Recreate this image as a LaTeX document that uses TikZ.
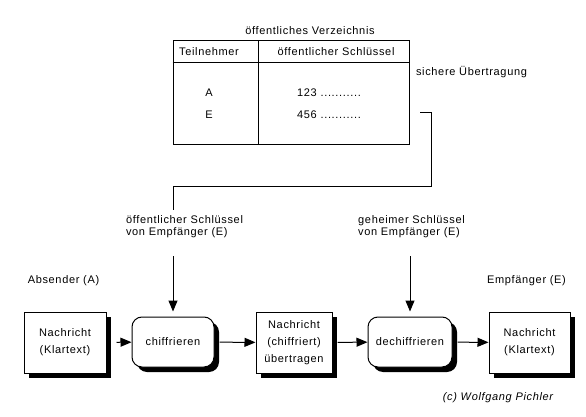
\documentclass[tikz,border=0pt]{standalone}
\usepackage{fontspec}
\setmainfont{Liberation Sans}[LetterSpace=6]
\definecolor{vzink}{HTML}{000000}
\usetikzlibrary{positioning, arrows.meta, calc, shadows}

\tikzset{
  msgbox/.style={draw=vzink, fill=white, line width=1pt, minimum width=82pt,
    minimum height=61pt, align=center, font=\fontsize{11}{17}\selectfont,
    drop shadow={shadow xshift=5pt, shadow yshift=-5pt, fill=vzink, opacity=1}},
  procbox/.style={msgbox, rounded corners=10pt, minimum height=50pt},
  flow/.style={-{Triangle[length=11pt, width=9pt]}, line width=1pt, vzink},
  link/.style={line width=1pt, vzink},
  lbl/.style={text=vzink, font=\fontsize{11}{12}\selectfont, inner sep=0pt},
}

\begin{document}
\begin{tikzpicture}[x=1pt, y=-1pt]
    \useasboundingbox (0,0) rectangle (586,417);
    % oeffentliches Verzeichnis
    \node[lbl] (titel) at (310,31) {öffentliches Verzeichnis};
    \node[draw=vzink, line width=1pt, minimum width=236pt, minimum height=103pt] (verz) at (291,92.5) {};
    \draw[link] ($(verz.north west)+(0,22)$) -- ($(verz.north east)+(0,22)$);
    \draw[link] ($(verz.north west)+(86,0)$) -- ($(verz.south west)+(86,0)$);
    \node[lbl] (teiln) at (209,52) {Teilnehmer};
    \node[lbl] (schl) at (336,52) {öffentlicher Schlüssel};
    \node[lbl] (ta) at (209,93) {A};
    \node[lbl] (te) at (209,115) {E};
    \node[lbl, anchor=west] (ka) at (297,93) {123 ...........};
    \node[lbl, anchor=west] (ke) at (297,115) {456 ...........};
    \node[lbl] (sicher) at (471.5,72) {sichere Übertragung};

    % Nachrichtenfluss
    \node[msgbox] (klar) at (65,342.5) {Nachricht\\(Klartext)};
    \node[procbox] (chiff) at (173,342) {chiffrieren};
    \node[msgbox, minimum width=76pt] (ueber) at (294,342.5) {Nachricht\\(chiffriert)\\übertragen};
    \node[procbox, minimum width=84pt] (dechiff) at (410,342) {dechiffrieren};
    \node[msgbox, minimum width=81pt] (klarE) at (529.5,342.5) {Nachricht\\(Klartext)};

    \node[lbl] (absender) at (63.5,281) {Absender (A)};
    \node[lbl] (empf) at (526.5,281) {Empfänger (E)};
    \node[lbl, font=\fontsize{11}{12}\selectfont\itshape] (copy) at (498,398) {(c) Wolfgang Pichler};

    \node[lbl, align=left] (oeffkey) at (184.5,227) {öffentlicher Schlüssel\\von Empfänger (E)};
    \node[lbl, align=left] (gehkey) at (411.5,227) {geheimer Schlüssel\\von Empfänger (E)};

    % sichere Uebertragung
    \coordinate (uebtr) at (420,113);
    \coordinate (knick) at (chiff.north |- 0,186);
    \draw[link, shorten >=6pt] (uebtr) -- ++(11,0) |- (knick) -- (knick |- oeffkey.north);

    \draw[flow, shorten <=18pt, shorten >=5pt] (chiff.north |- oeffkey.south) -- (chiff.north);
    \draw[flow, shorten <=18pt, shorten >=5pt] (dechiff.north |- gehkey.south) -- (dechiff.north);

    \draw[flow, shorten <=10pt] (klar) -- (chiff);
    \draw[flow, shorten <=5pt] (chiff) -- (ueber);
    \draw[flow, shorten <=5pt] (ueber) -- (dechiff);
    \draw[flow, shorten <=5pt] (dechiff) -- (klarE);
  \end{tikzpicture}
\end{document}
